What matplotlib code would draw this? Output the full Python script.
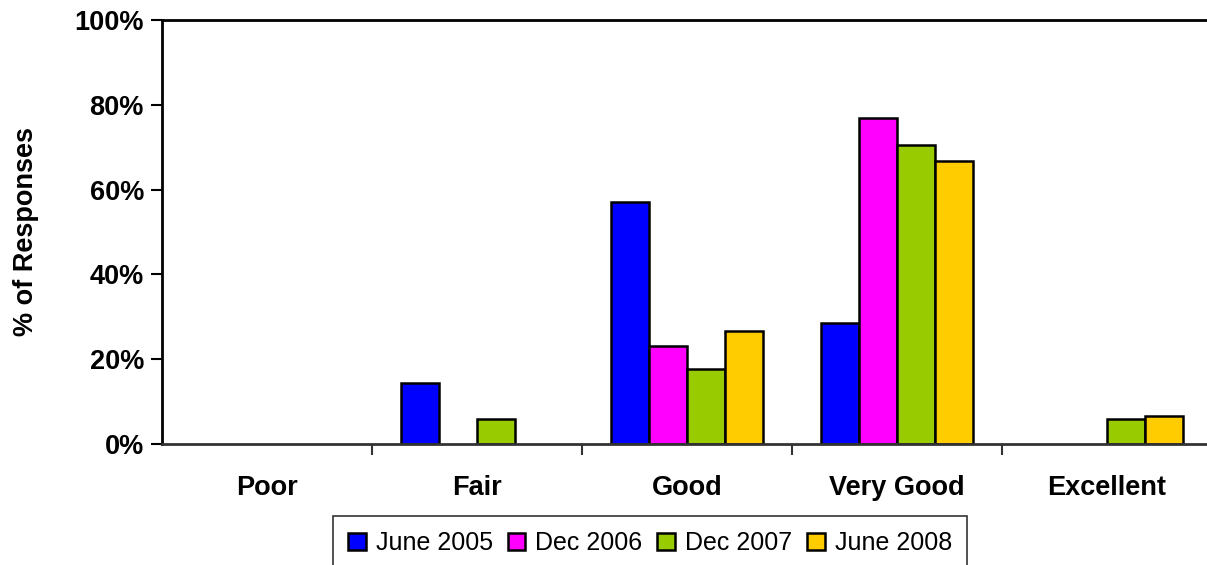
import matplotlib
matplotlib.use("Agg")
import matplotlib.pyplot as plt
import numpy as np
from matplotlib.ticker import PercentFormatter

plt.rcParams['font.family'] = ['Liberation Sans', 'DejaVu Sans']

categories = ["Poor", "Fair", "Good", "Very Good", "Excellent"]
series = ["June 2005", "Dec 2006", "Dec 2007", "June 2008"]
june2005 = [0, 14.3, 57.1, 28.6, 0]
dec2006 = [0, 0, 23.1, 76.9, 0]
dec2007 = [0, 5.9, 17.6, 70.6, 5.9]
june2008 = [0, 0, 26.7, 66.7, 6.7]
colors = ["#0000FF", "#FF00FF", "#99CC00", "#FFCC00"]

fig = plt.figure(figsize=(12.07, 5.65), dpi=100)
ax = fig.add_axes([162 / 1207, 1 - 444 / 565, 1045 / 1207, 424 / 565])

x = np.arange(len(categories))
width = 0.18
for i, (vals, name, c) in enumerate(zip([june2005, dec2006, dec2007, june2008], series, colors)):
    lw = [1.8 if v > 0 else 0 for v in vals]
    ax.bar(x + (i - 1.5) * width, vals, width, color=c, edgecolor="black",
           linewidth=lw, label=name, zorder=1)

ax.set_xlim(-0.5, -0.5 + 1045 / 210)
ax.set_ylim(0, 100)
ax.set_yticks(np.arange(0, 101, 20))
ax.yaxis.set_major_formatter(PercentFormatter(decimals=0))
ax.set_xticks(x)
ax.set_xticklabels(categories)
ax.set_xticks(np.arange(0.5, 4.5, 1), minor=True)
ax.tick_params(axis="x", which="major", length=0, pad=22)
ax.tick_params(axis="x", which="minor", length=8, width=1.5, color="#333333", direction="out")
ax.tick_params(axis="y", length=8, width=1.5, direction="out", pad=5)
for lab in ax.get_xticklabels() + ax.get_yticklabels():
    lab.set_fontweight("bold")
    lab.set_fontsize(19.5)

ax.spines["right"].set_visible(False)
ax.spines["left"].set_linewidth(2)
ax.spines["top"].set_linewidth(2)
ax.spines["bottom"].set_linewidth(2)
ax.spines["bottom"].set_color("#333333")

ax.set_ylabel("% of Responses", fontsize=19.5, fontweight="bold")
ax.yaxis.set_label_coords((39 - 162) / 1045, 0.5)

leg = fig.legend(loc="upper center", bbox_to_anchor=(650 / 1207, 1 - 516 / 565),
                 ncol=4, fontsize=18, frameon=True, fancybox=False,
                 edgecolor="black", handlelength=0.7, handleheight=0.7,
                 handletextpad=0.4, columnspacing=0.6, borderpad=0.6,
                 borderaxespad=0)
leg.get_frame().set_linewidth(1.2)
for h in leg.legend_handles:
    h.set_linewidth(1.8)

fig.savefig("out.png", dpi=100)
